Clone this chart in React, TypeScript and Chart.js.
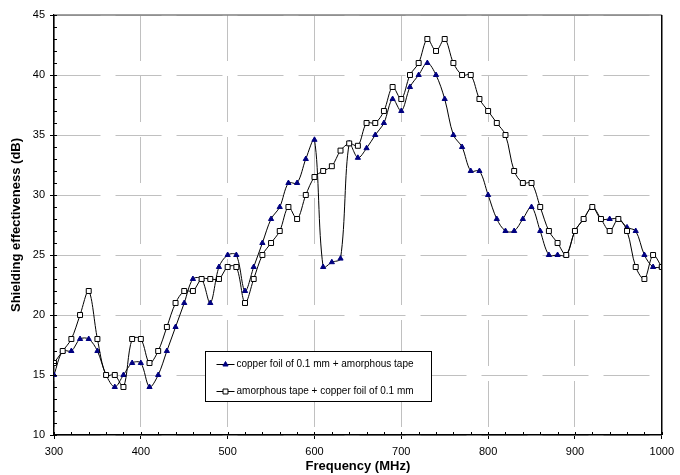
import React, { useEffect, useRef } from "react";
import { Chart, registerables } from "chart.js";

Chart.register(...registerables);

const frequencies = [
  300, 310, 320, 330, 340, 350, 360, 370, 380, 390,
  400, 410, 420, 430, 440, 450, 460, 470, 480, 490,
  500, 510, 520, 530, 540, 550, 560, 570, 580, 590,
  600, 610, 620, 630, 640, 650, 660, 670, 680, 690,
  700, 710, 720, 730, 740, 750, 760, 770, 780, 790,
  800, 810, 820, 830, 840, 850, 860, 870, 880, 890,
  900, 910, 920, 930, 940, 950, 960, 970, 980, 990,
  1000,
];

const copperThenAmorphous = [
  15, 17, 17, 18, 18, 17, 15, 14, 15, 16,
  16, 14, 15, 17, 19, 21, 23, 23, 21, 24,
  25, 25, 22, 24, 26, 28, 29, 31, 31, 33,
  34.6, 24, 24.4, 24.7, 34.3, 33.1, 33.9, 35, 36, 38,
  37, 39, 40, 41, 40, 38, 35, 34, 32, 32,
  30, 28, 27, 27, 28, 29, 27, 25, 25, 25,
  27, 28, 29, 28, 28, 28, 27.3, 27, 25, 24,
  24,
];

const amorphousThenCopper = [
  16, 17, 18, 20, 22, 18, 15, 15, 14, 18,
  18, 16, 17, 19, 21, 22, 22, 23, 23, 23,
  24, 24, 21, 23, 25, 26, 27, 29, 28, 30,
  31.5, 32, 32.4, 33.7, 34.3, 34.1, 36, 36, 37, 39,
  38, 40, 41, 43, 42, 43, 41, 40, 40, 38,
  37, 36, 35, 32, 31, 31, 29, 27, 26, 25,
  27, 28, 29, 28, 27, 28, 27, 24, 23, 25,
  24,
];

const seriesLabels = [
  "copper foil of 0.1 mm + amorphous tape",
  "amorphous tape + copper foil of 0.1 mm",
];

const xTitle = "Frequency (MHz)";
const yTitle = "Shielding effectiveness (dB)";

const FONT = '"Liberation Sans", Arial, sans-serif';

const frameAndTicks = {
  id: "frameAndTicks",
  afterDatasetsDraw(chart: any) {
    const { ctx, chartArea, scales } = chart;
    const { left, right, top, bottom } = chartArea;
    ctx.save();
    ctx.strokeStyle = "#808080";
    ctx.lineWidth = 1.5;
    ctx.beginPath();
    ctx.moveTo(left, top);
    ctx.lineTo(right, top);
    ctx.stroke();
    ctx.strokeStyle = "#000";
    ctx.lineWidth = 1.5;
    ctx.beginPath();
    ctx.moveTo(right, top);
    ctx.lineTo(right, bottom);
    ctx.stroke();
    ctx.lineWidth = 1;
    ctx.strokeStyle = "#000";
    ctx.beginPath();
    for (let v = scales.x.min; v <= scales.x.max; v += 20) {
      const px = Math.round(scales.x.getPixelForValue(v)) + 0.5;
      ctx.moveTo(px, bottom);
      ctx.lineTo(px, bottom - 3);
    }
    for (let v = scales.y.min; v <= scales.y.max; v += 1) {
      const py = Math.round(scales.y.getPixelForValue(v)) + 0.5;
      ctx.moveTo(left, py);
      ctx.lineTo(left + 3, py);
    }
    ctx.stroke();
    ctx.restore();
  },
};

const boxLegend = {
  id: "boxLegend",
  afterDraw(chart: any) {
    const { ctx } = chart;
    const x0 = 205.5;
    const y0 = 351.5;
    const w = 226;
    const h = 50;
    ctx.save();
    ctx.fillStyle = "#fff";
    ctx.fillRect(x0, y0, w, h);
    ctx.strokeStyle = "#000";
    ctx.lineWidth = 1;
    ctx.strokeRect(x0, y0, w, h);
    chart.data.datasets.forEach((ds: any, i: number) => {
      const ly = y0 + 13 + i * 27;
      const lx1 = x0 + 11;
      const lx2 = x0 + 29;
      const cx = (lx1 + lx2) / 2;
      ctx.strokeStyle = ds.borderColor;
      ctx.lineWidth = 1;
      ctx.beginPath();
      ctx.moveTo(lx1, ly);
      ctx.lineTo(lx2, ly);
      ctx.stroke();
      ctx.fillStyle = ds.pointBackgroundColor;
      ctx.strokeStyle = ds.pointBorderColor;
      ctx.beginPath();
      if (ds.pointStyle === "triangle") {
        const r = ds.pointRadius;
        ctx.moveTo(cx, ly - r);
        ctx.lineTo(cx + r * 0.866, ly + r * 0.5);
        ctx.lineTo(cx - r * 0.866, ly + r * 0.5);
        ctx.closePath();
      } else {
        const s = ds.pointRadius * Math.SQRT1_2;
        ctx.rect(cx - s, ly - s, 2 * s, 2 * s);
      }
      ctx.fill();
      ctx.stroke();
      ctx.fillStyle = "#000";
      ctx.font = `10px ${FONT}`;
      ctx.textAlign = "left";
      ctx.textBaseline = "middle";
      ctx.fillText(ds.label, x0 + 31, ly);
    });
    ctx.restore();
  },
};

export default function App() {
  const ref = useRef<HTMLCanvasElement>(null);

  useEffect(() => {
    const canvas = ref.current;
    if (!canvas) return;
    const chart = new Chart(canvas, {
      type: "line",
      data: {
        datasets: [
          {
            label: seriesLabels[0],
            data: frequencies.map((f, i) => ({ x: f, y: copperThenAmorphous[i] })),
            borderColor: "#000",
            borderWidth: 1,
            tension: 0.33,
            pointStyle: "triangle",
            pointRadius: 3,
            pointBackgroundColor: "#000080",
            pointBorderColor: "#000080",
            pointBorderWidth: 1,
            order: 1,
          },
          {
            label: seriesLabels[1],
            data: frequencies.map((f, i) => ({ x: f, y: amorphousThenCopper[i] })),
            borderColor: "#000",
            borderWidth: 1,
            tension: 0.33,
            pointStyle: "rect",
            pointRadius: 3.5,
            pointBackgroundColor: "#fff",
            pointBorderColor: "#000",
            pointBorderWidth: 1,
            order: 0,
          },
        ],
      },
      options: {
        animation: false,
        responsive: false,
        devicePixelRatio: 1,
        layout: { padding: { top: 15, right: 15, left: 0, bottom: 0 } },
        plugins: {
          legend: { display: false },
          tooltip: { enabled: false },
        },
        scales: {
          x: {
            type: "linear",
            min: 300,
            max: 1000,
            afterFit: (scale: any) => {
              scale.height = 40;
            },
            ticks: {
              stepSize: 100,
              color: "#000",
              font: { family: FONT, size: 11 },
              padding: 6,
              maxRotation: 0,
              callback: (v: any) => String(v),
            },
            grid: {
              color: "#c0c0c0",
              lineWidth: 1,
              tickLength: 4,
              tickColor: "#000",
              tickBorderDash: [],
            },
            border: { color: "#000", width: 1.5, dash: [46, 15] },
            title: {
              display: true,
              text: xTitle,
              color: "#000",
              font: { family: FONT, size: 13, weight: "bold" },
              padding: { top: 0, bottom: 1 },
            },
          },
          y: {
            type: "linear",
            min: 10,
            max: 45,
            afterFit: (scale: any) => {
              scale.width = 54;
            },
            ticks: {
              stepSize: 5,
              color: "#000",
              font: { family: FONT, size: 11 },
              padding: 5,
              callback: (v: any) => String(v),
            },
            grid: {
              color: "#c0c0c0",
              lineWidth: 1,
              tickLength: 4,
              tickColor: "#000",
              tickBorderDash: [],
            },
            border: { color: "#000", width: 1.5, dash: [46, 15] },
            title: {
              display: true,
              text: yTitle,
              color: "#000",
              font: { family: FONT, size: 13, weight: "bold" },
              padding: { top: 9, bottom: 0 },
            },
          },
        },
      } as any,
      plugins: [frameAndTicks, boxLegend],
    });
    return () => chart.destroy();
  }, []);

  return (
    <div style={{ position: "fixed", left: 0, top: 0, width: 680, height: 475, background: "#fff" }}>
      <canvas ref={ref} width={680} height={475} style={{ width: 680, height: 475, display: "block" }} />
    </div>
  );
}
